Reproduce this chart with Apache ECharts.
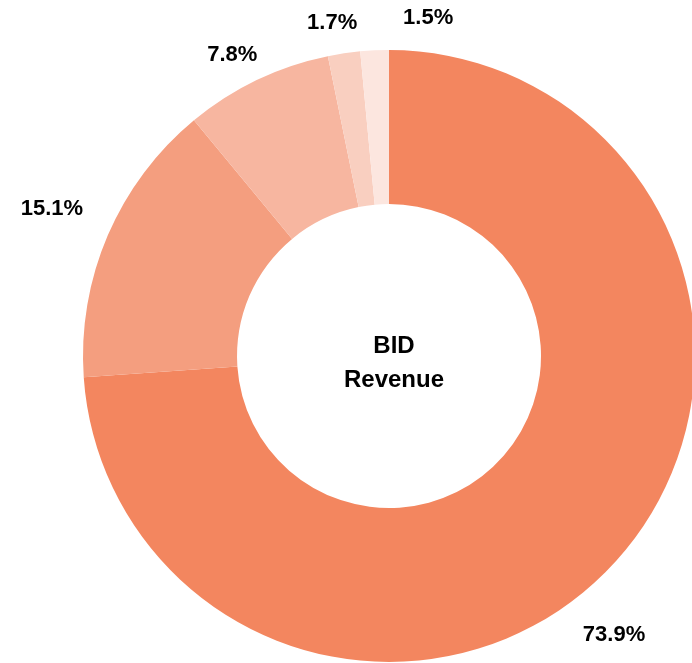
<!DOCTYPE html>
<html>
<head>
<meta charset="utf-8">
<script src="https://cdn.jsdelivr.net/npm/echarts@6/dist/echarts.min.js"></script>
<style>
  html, body { margin: 0; padding: 0; background: #fff; }
  #revenueDonut { width: 692px; height: 663px; }
</style>
</head>
<body>
<div id="revenueDonut"></div>
<script>
// BID revenue share donut
var segments = ["Segment 1", "Segment 2", "Segment 3", "Segment 4", "Segment 5"];
var shares = [73.9, 15.1, 7.8, 1.7, 1.5];

var sliceColors = ["#F3865F", "#F49E7F", "#F7B6A0", "#F9CFC0", "#FCE6DF"];
var pieCenter = [389, 356];
var outerR = 306;
var innerR = 152;
var labelGap = 18;
// small nudges so labels sit where the original had them
var labelNudge = [[-34, 37], [-9, -6], [-8, 10], [-7, 2], [55, -2]];

var total = shares.reduce(function (a, b) { return a + b; }, 0);
var startShare = [];
var acc = 0;
shares.forEach(function (v) { startShare.push(acc); acc += v; });

var donutChart = echarts.init(document.getElementById("revenueDonut"));

var donutOption = {
  animation: false,
  title: {
    text: "BID\nRevenue",
    left: pieCenter[0],
    top: 358,
    textAlign: "center",
    textVerticalAlign: "middle",
    textStyle: {
      fontFamily: "Liberation Sans",
      fontWeight: "bold",
      fontSize: 24,
      lineHeight: 34,
      color: "#000",
    },
  },
  series: [
    {
      type: "pie",
      center: pieCenter,
      radius: [innerR, outerR],
      startAngle: 90,
      clockwise: true,
      avoidLabelOverlap: false,
      emphasis: { disabled: true },
      label: {
        show: true,
        position: "outside",
        formatter: function (p) { return p.value.toFixed(1) + "%"; },
        fontFamily: "Liberation Sans",
        fontWeight: "bold",
        fontSize: 22,
        color: "#000",
      },
      labelLine: { show: false },
      labelLayout: function (p) {
        var i = p.dataIndex;
        var mid = (startShare[i] + shares[i] / 2) / total * 2 * Math.PI;
        var dx = Math.sin(mid);
        var dy = -Math.cos(mid);
        var w = p.labelRect.width;
        var h = p.labelRect.height;
        var r = outerR + labelGap + Math.abs(dx) * w / 2 + Math.abs(dy) * h / 2;
        return {
          x: pieCenter[0] + dx * r + labelNudge[i][0],
          y: pieCenter[1] + dy * r + labelNudge[i][1],
          align: "center",
          verticalAlign: "middle",
        };
      },
      data: shares.map(function (v, i) {
        return { name: segments[i], value: v, itemStyle: { color: sliceColors[i] } };
      }),
    },
  ],
};

donutChart.setOption(donutOption);

window.addEventListener("resize", function () {
  donutChart.resize();
});
</script>
</body>
</html>
